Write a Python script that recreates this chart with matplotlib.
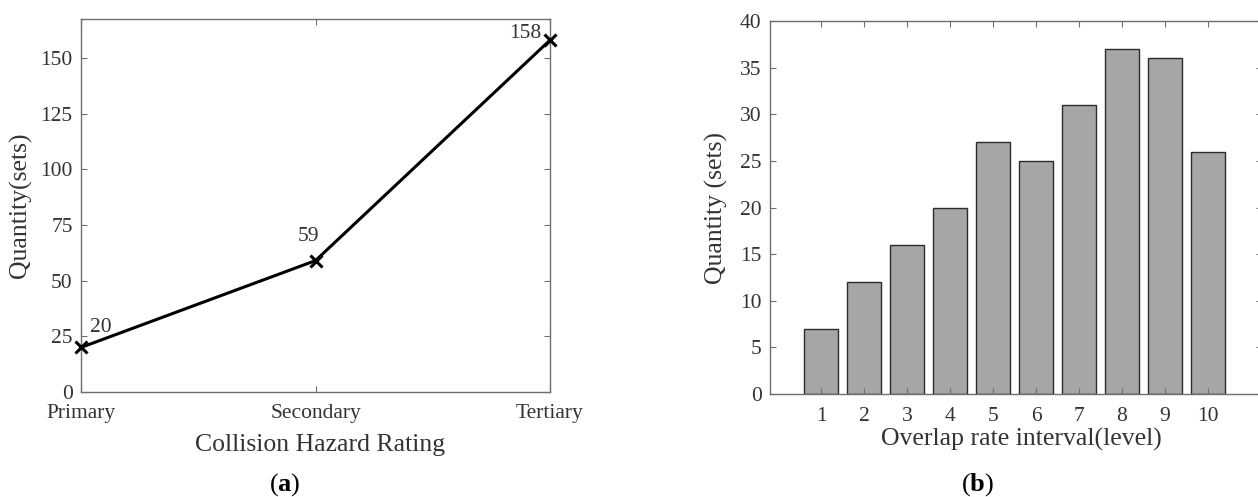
import matplotlib
matplotlib.use("Agg")
import matplotlib.pyplot as plt

plt.rcParams['font.family'] = ['Liberation Serif', 'DejaVu Serif']
plt.rcParams['mathtext.fontset'] = 'custom'
plt.rcParams['mathtext.rm'] = 'Liberation Serif'
plt.rcParams['mathtext.bf'] = 'Liberation Serif:bold'

# panel (a)
ratings = ["Primary", "Secondary", "Tertiary"]
quantity = [20, 59, 158]
label_offsets = [(20, 20), (-7, 24), (-25, 7)]

# panel (b)
levels = [1, 2, 3, 4, 5, 6, 7, 8, 9, 10]
counts = [7, 12, 16, 20, 27, 25, 31, 37, 36, 26]

txt = "#333333"
spine = "#6e6e6e"

fig = plt.figure(figsize=(12.58, 4.97), dpi=100)

ax1 = fig.add_axes([0.0644, 0.2113, 0.3728, 0.7505])
x = list(range(len(ratings)))
ax1.plot(x, quantity, color="black", lw=2.2, marker="x", ms=9, mew=2.2, clip_on=False, zorder=5)
for xi, q, off in zip(x, quantity, label_offsets):
    ax1.annotate(str(q), (xi, q), xytext=off, textcoords="offset pixels",
                 ha="center", va="center", fontsize=15.5, color=txt)
ax1.set_xlim(0, 2)
ax1.set_ylim(0, 167.5)
ax1.set_xticks(x)
ax1.set_xticklabels(ratings)
ax1.set_yticks(range(0, 151, 25))
ax1.set_xlabel("Collision Hazard Rating", fontsize=18.5, color=txt, va="center")
ax1.set_ylabel("Quantity(sets)", fontsize=18.5, color=txt, va="center")
ax1.xaxis.set_label_coords(0.51, -0.142)
ax1.yaxis.set_label_coords(-0.13, 0.5)

ax2 = fig.add_axes([0.6121, 0.2072, 0.3911, 0.7505])
ax2.bar(levels, counts, width=0.8, color="#a6a6a6", edgecolor="#2b2b2b", lw=1)
ax2.set_xlim(-0.19, 11.26)
ax2.set_ylim(0, 40)
ax2.set_xticks(levels)
ax2.set_yticks(range(0, 41, 5))
ax2.set_xlabel("Overlap rate interval(level)", fontsize=18.5, color=txt, va="center")
ax2.set_ylabel("Quantity (sets)", fontsize=18.5, color=txt, va="center")
ax2.xaxis.set_label_coords(0.51, -0.122)
ax2.yaxis.set_label_coords(-0.108, 0.5)

for ax in (ax1, ax2):
    for s in ax.spines.values():
        s.set_color(spine)
        s.set_linewidth(1)
    ax.tick_params(direction="in", top=True, right=True, length=4, width=0.8,
                   color=spine, labelcolor=txt, labelsize=15.5, pad=6)
    ax.tick_params(axis="x", pad=9)

fig.text(0.226, 1 - 485 / 497, r"($\mathbf{a}$)", fontsize=19, color="black",
         ha="center", va="center")
fig.text(0.777, 1 - 485 / 497, r"($\mathbf{b}$)", fontsize=19, color="black",
         ha="center", va="center")

fig.savefig("out.png", dpi=100)
